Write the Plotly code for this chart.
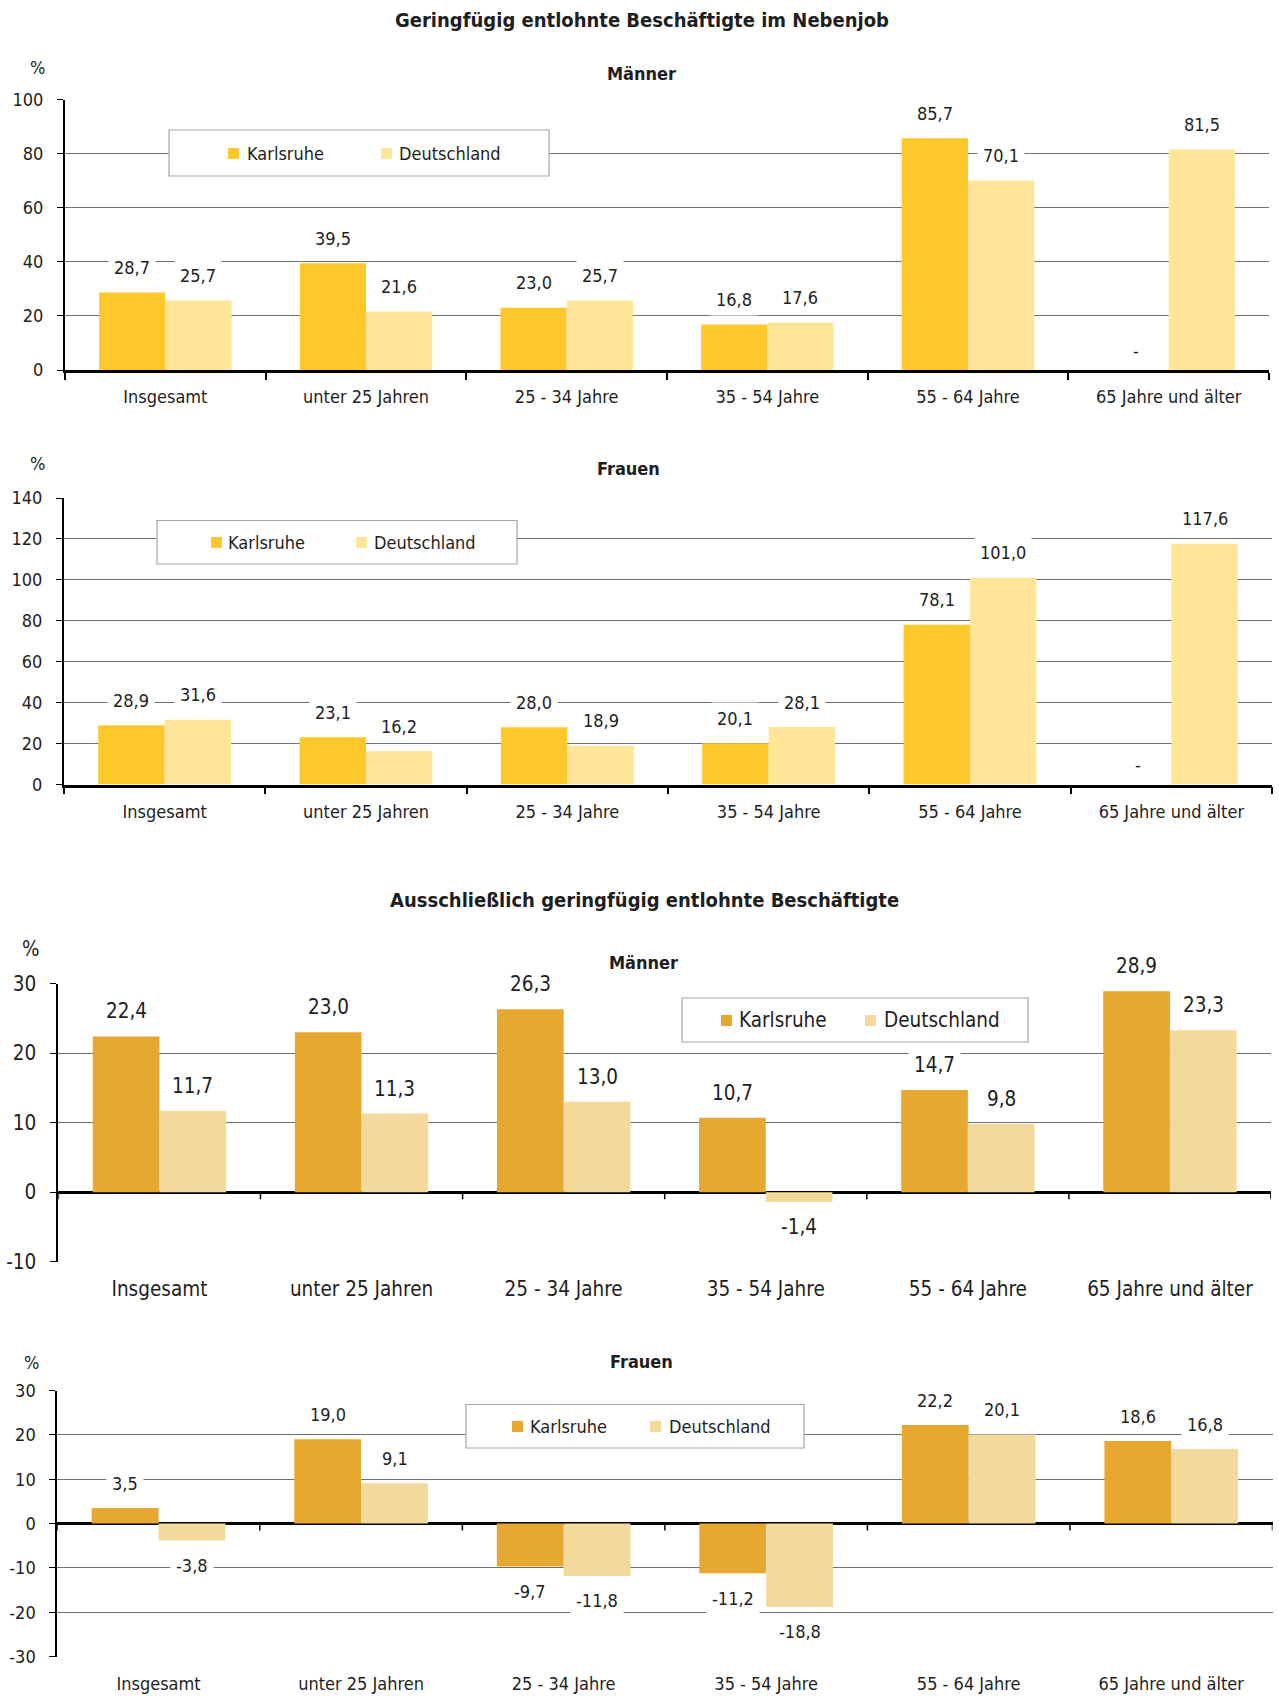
import plotly.graph_objects as go

# ---------------------------------------------------------------- data
categories = ["Insgesamt", "unter 25 Jahren", "25 - 34 Jahre",
              "35 - 54 Jahre", "55 - 64 Jahre", "65 Jahre und älter"]
series_names = ["Karlsruhe", "Deutschland"]

# Geringfügig entlohnte Beschäftigte im Nebenjob (Veränderung in %)
neben_maenner_ka = [28.7, 39.5, 23.0, 16.8, 85.7, None]
neben_maenner_de = [25.7, 21.6, 25.7, 17.6, 70.1, 81.5]
neben_frauen_ka = [28.9, 23.1, 28.0, 20.1, 78.1, None]
neben_frauen_de = [31.6, 16.2, 18.9, 28.1, 101.0, 117.6]

# Ausschließlich geringfügig entlohnte Beschäftigte (Veränderung in %)
ausschl_maenner_ka = [22.4, 23.0, 26.3, 10.7, 14.7, 28.9]
ausschl_maenner_de = [11.7, 11.3, 13.0, -1.4, 9.8, 23.3]
ausschl_frauen_ka = [3.5, 19.0, -9.7, -11.2, 22.2, 18.6]
ausschl_frauen_de = [-3.8, 9.1, -11.8, -18.8, 20.1, 16.8]

title_neben = "Geringfügig entlohnte Beschäftigte im Nebenjob"
title_ausschl = "Ausschließlich geringfügig entlohnte Beschäftigte"

# ---------------------------------------------------------------- styling
W, H = 1279, 1697
FONT = "Liberation Sans Narrow, Arial Narrow, DejaVu Sans Condensed, sans-serif"
TXT = "#1e1e1e"
GRID = "#707070"
BARGAP = 0.34

yellow = ("#fdc82a", "#fee597")
ochre = ("#e6a830", "#f3d99c")


def fx(px):
    return px / W


def fy(py):
    return 1 - py / H


panels = [
    dict(ka=neben_maenner_ka, de=neben_maenner_de, colors=yellow,
         yrange=(0, 100, 20), box=(65, 99.6, 1269, 370),
         fs=18, xstand=9, sub="Männer", sub_xy=(641, 74), pct_xy=(37, 67),
         legend=dict(box=(169, 130, 549, 176), k=(228, 245), d=(381, 397), yc=153),
         zero_axis=False, title=(title_neben, 642, 20)),
    dict(ka=neben_frauen_ka, de=neben_frauen_de, colors=yellow,
         yrange=(0, 140, 20), box=(64, 498, 1272, 784.5),
         fs=18, xstand=9, sub="Frauen", sub_xy=(628, 469), pct_xy=(37, 463),
         legend=dict(box=(157, 520.5, 517, 564), k=(211, 226), d=(356, 372), yc=542),
         zero_axis=False, title=None),
    dict(ka=ausschl_maenner_ka, de=ausschl_maenner_de, colors=ochre,
         yrange=(-10, 30, 10), box=(58.4, 983.6, 1271, 1261.7),
         fs=20.5, xstand=13, sub="Männer", sub_xy=(643, 962), pct_xy=(31, 949),
         legend=dict(box=(682, 998, 1028, 1042), k=(721, 737), d=(865, 882), yc=1020),
         zero_axis=True, title=(title_ausschl, 644, 900)),
    dict(ka=ausschl_frauen_ka, de=ausschl_frauen_de, colors=ochre,
         yrange=(-30, 30, 10), box=(57.3, 1390.5, 1272.5, 1656.6),
         fs=18, xstand=14, sub="Frauen", sub_xy=(641, 1361), pct_xy=(31, 1362),
         legend=dict(box=(466, 1404.5, 804, 1448), k=(512, 528), d=(650, 667), yc=1426),
         zero_axis=True, title=None),
]


def fmt(v):
    return "-" if v is None else f"{v:.1f}".replace(".", ",")


fig = go.Figure()
annotations = []
shapes = []
layout_axes = {}
half = (1 - BARGAP) / 4  # centre offset of each bar inside its group

for n, p in enumerate(panels, start=1):
    sfx = "" if n == 1 else str(n)
    xa, ya = "x" + sfx, "y" + sfx
    left, top, right, bottom = p["box"]
    fs = p["fs"]

    for name, vals, col in zip(series_names, (p["ka"], p["de"]), p["colors"]):
        fig.add_trace(go.Bar(x=categories, y=vals, name=name, marker_color=col,
                             marker_line_width=0, xaxis=xa, yaxis=ya,
                             showlegend=False))

    # value labels ("-" marks a missing value and sits just above the zero line)
    for vals, off in ((p["ka"], -half), (p["de"], half)):
        for i, v in enumerate(vals):
            if v is None:
                annotations.append(dict(
                    x=i + off, y=0, xref=xa, yref=ya, text=fmt(v), showarrow=False,
                    yanchor="middle", yshift=20,
                    font=dict(family=FONT, size=fs, color=TXT)))
                continue
            annotations.append(dict(
                x=i + off, y=v, xref=xa, yref=ya, text=fmt(v), showarrow=False,
                yanchor="middle", yshift=-25 if v < 0 else 25,
                bgcolor="white", borderpad=5,
                font=dict(family=FONT, size=fs, color=TXT)))

    # category boundary ticks on the zero line
    if p["zero_axis"]:
        for b in range(len(categories) + 1):
            shapes.append(dict(type="line", xref=xa, yref=ya, x0=b - 0.5, x1=b - 0.5,
                               ysizemode="pixel", yanchor=0, y0=0, y1=-7,
                               line=dict(color="black", width=1.5)))

    xcfg = dict(domain=[fx(left), fx(right)], anchor=ya, type="category",
                categoryorder="array", categoryarray=categories, automargin=False,
                range=[-0.5, len(categories) - 0.5], showgrid=False, zeroline=False,
                ticklabelstandoff=p["xstand"],
                tickfont=dict(family=FONT, size=fs, color=TXT))
    if p["zero_axis"]:
        xcfg.update(ticks="", showline=False)
    else:
        xcfg.update(ticks="outside", tickson="boundaries", ticklen=7, tickwidth=1.5,
                    tickcolor="black", showline=True, linecolor="black", linewidth=2.5)
    y0, y1, step = p["yrange"]
    yticks = list(range(y0, y1 + 1, step))
    ycfg = dict(domain=[fy(bottom), fy(top)], anchor=xa, range=[y0, y1],
                automargin=False,
                tickmode="array", tickvals=yticks, ticktext=[str(t) for t in yticks],
                showgrid=True, gridcolor=GRID, gridwidth=1,
                showline=True, linecolor="black", linewidth=2, ticks="outside",
                ticklen=6, tickcolor="black", ticklabelstandoff=10,
                zeroline=p["zero_axis"], zerolinecolor="black", zerolinewidth=2.5,
                tickfont=dict(family=FONT, size=fs, color=TXT))
    layout_axes["xaxis" + sfx] = xcfg
    layout_axes["yaxis" + sfx] = ycfg

    # headings
    if p["title"]:
        t, tx, ty = p["title"]
        annotations.append(dict(text=f"<b>{t}</b>", x=fx(tx), y=fy(ty), xref="paper",
                                yref="paper", showarrow=False, xanchor="center",
                                yanchor="middle",
                                font=dict(family=FONT, size=20, color=TXT)))
    sx, sy = p["sub_xy"]
    annotations.append(dict(text=f"<b>{p['sub']}</b>", x=fx(sx), y=fy(sy), xref="paper",
                            yref="paper", showarrow=False, xanchor="center",
                            yanchor="middle", font=dict(family=FONT, size=18, color=TXT)))
    px_, py_ = p["pct_xy"]
    annotations.append(dict(text="%", x=fx(px_), y=fy(py_), xref="paper", yref="paper",
                            showarrow=False, xanchor="center", yanchor="middle",
                            font=dict(family=FONT, size=fs, color=TXT)))

    # legend box
    lg = p["legend"]
    bx0, by0, bx1, by1 = lg["box"]
    shapes.append(dict(type="rect", xref="paper", yref="paper",
                       x0=fx(bx0), x1=fx(bx1), y0=fy(by1), y1=fy(by0),
                       fillcolor="white", line=dict(color="#a6a6a6", width=1.2),
                       layer="above"))
    for name, col, (mx, tx) in zip(series_names, p["colors"], (lg["k"], lg["d"])):
        shapes.append(dict(type="rect", xref="paper", yref="paper",
                           x0=fx(mx), x1=fx(mx + 11), y0=fy(lg["yc"] + 6),
                           y1=fy(lg["yc"] - 5), fillcolor=col, line=dict(width=0),
                           layer="above"))
        annotations.append(dict(text=name, x=fx(tx), y=fy(lg["yc"]), xref="paper",
                                yref="paper", showarrow=False, xanchor="left",
                                yanchor="middle",
                                font=dict(family=FONT, size=fs, color=TXT)))

fig.update_layout(
    width=W, height=H, margin=dict(l=0, r=0, t=0, b=0, pad=0, autoexpand=False),
    paper_bgcolor="white", plot_bgcolor="white",
    barmode="group", bargap=BARGAP, bargroupgap=0,
    showlegend=False, annotations=annotations, shapes=shapes,
    font=dict(family=FONT, color=TXT),
    **layout_axes,
)

# pin the fixed-size figure to the window's top-left corner
pin_js = (
    "document.body.style.margin='0px';"
    "var g=document.getElementById('{plot_id}');"
    "g.style.position='fixed';g.style.top='0px';g.style.left='0px';"
)
fig.write_html("out.html", post_script=pin_js)
